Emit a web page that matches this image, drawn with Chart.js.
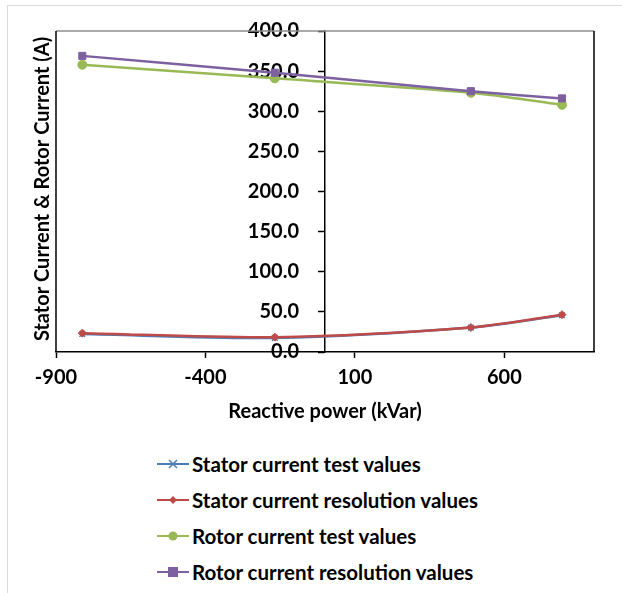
<!DOCTYPE html>
<html>
<head>
<meta charset="utf-8">
<script src="https://cdn.jsdelivr.net/npm/chart.js@4"></script>
<style>
body { margin: 0; background: #fff; }
#frame { position: absolute; left: 7px; top: 5px; width: 640px; height: 620px; border: 1px solid #d9d9d9; }
#wrap { position: absolute; left: 0; top: 0; width: 622px; height: 430px; }
#legend { position: absolute; left: 157px; top: 446px; }
.row { height: 36px; display: flex; align-items: center; font: bold 20.5px Lato, sans-serif; color: #000; }
.row svg { margin-right: 3px; }
</style>
</head>
<body>
<div id="frame"></div>
<div id="wrap"><canvas id="myChart" width="622" height="430"></canvas></div>
<div id="legend"></div>
<script>
// data
const reactivePower = [-812, -168, 488, 793];
const statorTest = [22.5, 17.6, 30.5, 45.8];
const statorCalc = [23.5, 18.5, 30.5, 46.5];
const rotorTest = [358, 341, 323, 308];
const rotorCalc = [369, 348, 325, 316];

const xTicks = [-900, -400, 100, 600];

const seriesNames = ["Stator current test values", "Stator current resolution values",
  "Rotor current test values", "Rotor current resolution values"];
const seriesColors = ["#4a7ebb", "#be4b48", "#98b954", "#7d60a0"];
const seriesMarkers = ["crossRot", "rectRot", "circle", "rect"];
const markerSizes = [4, 4, 4.5, 5];

const xTitle = "Reactive power (kVar)";
const yTitle = "Stator Current & Rotor Current (A)";

const toPoints = (vals) => vals.map((v, i) => ({ x: reactivePower[i], y: v }));
const allValues = [statorTest, statorCalc, rotorTest, rotorCalc];

const datasets = allValues.map((vals, i) => ({
  label: seriesNames[i],
  data: toPoints(vals),
  showLine: true,
  tension: 0.3,
  borderColor: seriesColors[i],
  backgroundColor: seriesColors[i],
  borderWidth: 2.5,
  pointStyle: seriesMarkers[i],
  pointRadius: markerSizes[i],
  pointBorderWidth: i == 0 ? 1.5 : 1,
  order: 4 - i
}));

// y axis sits at x = 0, move it there once the layout is done
const axisAtZero = {
  id: "axisAtZero",
  afterLayout(chart) {
    const y = chart.scales.y;
    const px = chart.scales.x.getPixelForValue(0);
    y.left = px - 80;
    y.right = px;
    y.width = 80;
  }
};

// frame round the plot + axis titles
const framePlugin = {
  id: "frame",
  afterDraw(chart) {
    const { ctx, chartArea: a } = chart;
    ctx.save();
    ctx.lineWidth = 1.5;
    ctx.strokeStyle = "#8c8c8c";
    ctx.beginPath(); ctx.moveTo(a.left, a.top); ctx.lineTo(a.right, a.top); ctx.stroke();
    ctx.strokeStyle = "#000";
    ctx.beginPath();
    ctx.moveTo(a.left, a.bottom); ctx.lineTo(a.left, a.top);
    ctx.moveTo(a.right, a.top); ctx.lineTo(a.right, a.bottom);
    ctx.stroke();

    ctx.fillStyle = "#000";
    ctx.font = "bold 20px Lato, sans-serif";
    ctx.textAlign = "center";
    ctx.textBaseline = "middle";
    ctx.fillText(xTitle, 325, 412);
    ctx.translate(43, 189);
    ctx.rotate(-Math.PI / 2);
    ctx.fillText(yTitle, 0, 0);
    ctx.restore();
  }
};

const ctx = document.getElementById("myChart").getContext("2d");
const chart = new Chart(ctx, {
  type: "scatter",
  data: { datasets: datasets },
  options: {
    responsive: false,
    animation: false,
    layout: { padding: { left: 56, top: 27, right: 28, bottom: 0 } },
    plugins: { legend: { display: false }, tooltip: { enabled: false } },
    scales: {
      x: {
        type: "linear",
        position: "bottom",
        min: -900,
        max: 900,
        afterFit: (s) => { s.height = 78; },
        afterBuildTicks: (s) => { s.ticks = xTicks.map(v => ({ value: v })); },
        ticks: { color: "#000", padding: 8,
          font: { family: "Lato", size: 20, weight: "bold" } },
        grid: { drawOnChartArea: false, tickLength: 6, color: "#000", tickWidth: 1.5 },
        border: { color: "#000", width: 1.5 }
      },
      y: {
        type: "linear",
        position: "left",
        min: 0,
        max: 400,
        afterFit: (s) => { s.width = 0; },
        ticks: { stepSize: 50, color: "#000", padding: 19,
          callback: (v) => v.toFixed(1),
          font: { family: "Lato", size: 20, weight: "bold" } },
        grid: { drawOnChartArea: false, tickLength: 7, color: "#000", tickWidth: 1.5 },
        border: { color: "#000", width: 1.5 }
      }
    }
  },
  plugins: [axisAtZero, framePlugin]
});

// legend underneath, line + marker like the chart
const legendBox = document.getElementById("legend");
const markerSvg = (i) => {
  const c = seriesColors[i];
  if (seriesMarkers[i] == "crossRot") return `<path d="M12 4 L20 12 M20 4 L12 12" stroke="${c}" stroke-width="1.5"/>`;
  if (seriesMarkers[i] == "rectRot") return `<path d="M16 4 L20 8 L16 12 L12 8 Z" fill="${c}"/>`;
  if (seriesMarkers[i] == "circle") return `<circle cx="16" cy="8" r="4.5" fill="${c}"/>`;
  return `<rect x="11" y="3" width="10" height="10" fill="${c}"/>`;
};
seriesNames.forEach((name, i) => {
  legendBox.innerHTML += `<div class="row"><svg width="32" height="16">
    <line x1="0" y1="8" x2="32" y2="8" stroke="${seriesColors[i]}" stroke-width="2"/>${markerSvg(i)}</svg>${name}</div>`;
});
</script>
</body>
</html>
